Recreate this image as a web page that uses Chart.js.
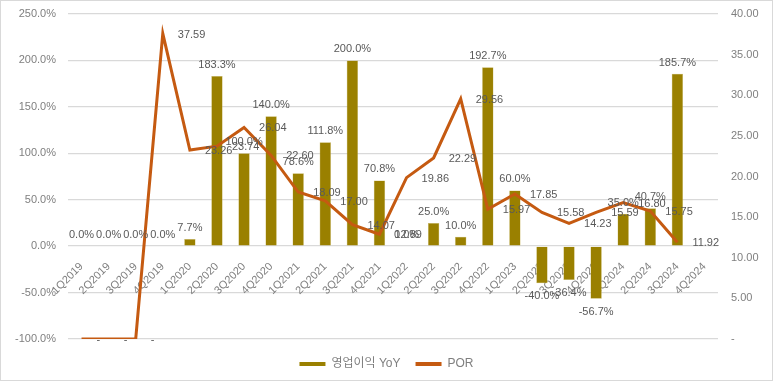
<!DOCTYPE html>
<html>
<head>
<meta charset="utf-8">
<script src="https://cdn.jsdelivr.net/npm/chart.js@4"></script>
<style>
  html, body { margin: 0; padding: 0; background: #fff; }
  #wrap { width: 771px; height: 379px; border: 1px solid #d9d9d9; }
</style>
</head>
<body>
<div id="wrap"><canvas id="ChartPor" width="771" height="379"></canvas></div>
<script>
const quarters = ["1Q2019", "2Q2019", "3Q2019", "4Q2019", "1Q2020", "2Q2020", "3Q2020", "4Q2020",
  "1Q2021", "2Q2021", "3Q2021", "4Q2021", "1Q2022", "2Q2022", "3Q2022", "4Q2022",
  "1Q2023", "2Q2023", "3Q2023", "4Q2023", "1Q2024", "2Q2024", "3Q2024", "4Q2024"];

// 영업이익 YoY (%)
const opYoY = [0.0, 0.0, 0.0, 0.0, 7.7, 183.3, 100.0, 140.0,
  78.6, 111.8, 200.0, 70.8, 0.0, 25.0, 10.0, 192.7,
  60.0, -40.0, -36.4, -56.7, 35.0, 40.7, 185.7, null];

// POR
const por = [0, 0, 0, 37.59, 23.26, 23.74, 26.04, 22.60,
  18.09, 17.00, 14.07, 12.89, 19.86, 22.29, 29.56, 15.97,
  17.85, 15.58, 14.23, 15.59, 16.80, 15.75, 11.92, null];

const FONT = "'Liberation Sans', 'Noto Sans CJK KR', sans-serif";
const OLIVE = "#9a8000";
const RUST = "#c55a11";

const PLOT_TOP = 13;
const PLOT_BOTTOM = 338;

// value labels (bars above/below, line values to the right)
const valueLabels = {
  id: "valueLabels",
  afterLayout(chart) {
    // pin the plot area to where the original has it
    const area = chart.chartArea;
    area.top = PLOT_TOP;
    area.bottom = PLOT_BOTTOM;
    area.height = PLOT_BOTTOM - PLOT_TOP;
    ["y", "y1"].forEach((id) => {
      const s = chart.scales[id];
      s.top = PLOT_TOP;
      s.bottom = PLOT_BOTTOM;
      s.height = PLOT_BOTTOM - PLOT_TOP;
      s.configure();
    });
  },
  afterDraw(chart) {
    const ctx = chart.ctx;
    ctx.save();
    ctx.font = "11px " + FONT;
    ctx.fillStyle = "#595959";
    ctx.textBaseline = "middle";

    chart.getDatasetMeta(0).data.forEach((bar, i) => {
      const v = opYoY[i];
      if (v === null) return;
      ctx.textAlign = "center";
      const y = v < 0 ? bar.y + 13 : bar.y - 11;
      ctx.fillText(v.toFixed(1) + "%", bar.x, y);
    });

    chart.getDatasetMeta(1).data.forEach((pt, i) => {
      const v = por[i];
      if (v === null) return;
      ctx.textAlign = "left";
      ctx.fillText(v === 0 ? "-" : v.toFixed(2), pt.x + 15, pt.y + 1);
    });
    ctx.restore();
  }
};

Chart.defaults.font.family = FONT;
Chart.defaults.font.size = 11;
Chart.defaults.color = "#7f7f7f";

new Chart(document.getElementById("ChartPor"), {
  type: "bar",
  data: {
    labels: quarters,
    datasets: [
      {
        label: "영업이익 YoY",
        data: opYoY,
        backgroundColor: OLIVE,
        borderColor: "#c9b866",
        borderWidth: 0.5,
        barPercentage: 0.42,
        categoryPercentage: 1,
        yAxisID: "y",
        order: 1,
      },
      {
        type: "line",
        label: "POR",
        data: por,
        borderColor: RUST,
        backgroundColor: RUST,
        borderWidth: 3,
        pointRadius: 0,
        tension: 0,
        yAxisID: "y1",
        order: 0,
      },
    ],
  },
  options: {
    responsive: false,
    animation: false,
    layout: { padding: { top: 2, bottom: 0, left: 0, right: 0 } },
    plugins: {
      tooltip: { enabled: false },
      legend: {
        position: "bottom",
        labels: {
          color: "#7f7f7f",
          boxWidth: 26,
          boxHeight: 4,
          padding: 15,
          font: { size: 12 },
          sort: (a, b) => a.datasetIndex - b.datasetIndex,
          generateLabels(chart) {
            return chart.data.datasets.map((ds, i) => ({
              text: ds.label,
              fillStyle: i === 0 ? OLIVE : RUST,
              strokeStyle: i === 0 ? OLIVE : RUST,
              lineWidth: 0,
              datasetIndex: i,
              fontColor: "#7f7f7f",
            }));
          },
        },
      },
    },
    scales: {
      x: {
        position: { y: 0 },
        grid: { display: false },
        border: { display: false },
        ticks: { minRotation: 45, maxRotation: 45, padding: 6, color: "#7f7f7f" },
      },
      y: {
        position: "left",
        min: -100,
        max: 250,
        grid: { color: "#d9d9d9", lineWidth: 1.3, drawTicks: false },
        border: { display: false },
        ticks: {
          stepSize: 50,
          padding: 12,
          callback: (v) => v.toFixed(1) + "%",
        },
        afterFit(scale) { scale.width = 67; },
      },
      y1: {
        position: "right",
        min: 0,
        max: 40,
        grid: { drawOnChartArea: false, drawTicks: false },
        border: { display: false },
        ticks: {
          stepSize: 5,
          padding: 13,
          callback: (v) => (v === 0 ? "-" : v.toFixed(2)),
        },
        afterFit(scale) { scale.width = 54; },
      },
    },
  },
  plugins: [valueLabels],
});
</script>
</body>
</html>
